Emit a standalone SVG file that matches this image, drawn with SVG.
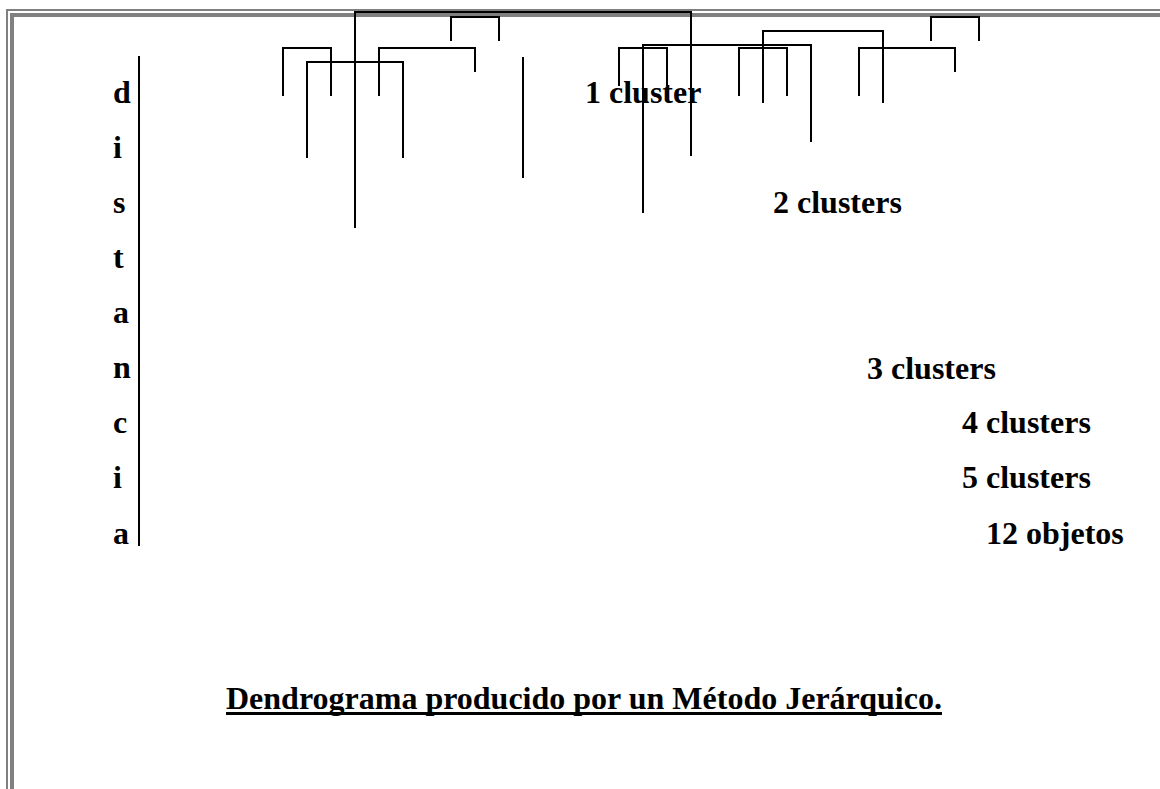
<svg xmlns="http://www.w3.org/2000/svg" width="1160" height="789" viewBox="0 0 1160 789">
<style>
.t{font-family:"Liberation Serif","Times New Roman",serif;font-weight:bold;font-size:32px;fill:#000}
.ln{stroke:#000;stroke-width:2;fill:none;stroke-linecap:butt}
.fr{fill:#808080}
</style>
<rect width="1160" height="789" fill="#fff"/>
<g id="frame">
<rect class="fr" x="6" y="9" width="1160" height="2"/>
<rect class="fr" x="6" y="9" width="2" height="790"/>
<rect class="fr" x="10" y="13" width="1160" height="4"/>
<rect class="fr" x="10" y="13" width="4" height="790"/>
</g>
<g id="axis">
<line class="ln" x1="139" y1="56" x2="139" y2="546"/>
<text class="t" x="113" y="102.5">d</text>
<text class="t" x="113" y="157.6">i</text>
<text class="t" x="113" y="212.7">s</text>
<text class="t" x="113" y="267.9">t</text>
<text class="t" x="113" y="323">a</text>
<text class="t" x="113" y="378.1">n</text>
<text class="t" x="113" y="433.2">c</text>
<text class="t" x="113" y="488.4">i</text>
<text class="t" x="113" y="543.5">a</text>
</g>
<g id="connectors">
<path class="ln" d="M283 96V48H331V96"/>
<path class="ln" d="M307 158V62H403V158"/>
<path class="ln" d="M355 228V12H691V156"/>
<path class="ln" d="M379 96V48H475V72"/>
<path class="ln" d="M451 41V17H499V41"/>
<path class="ln" d="M523 57V178"/>
<path class="ln" d="M619 86V48H667V86"/>
<path class="ln" d="M643 213V45H811V142"/>
<path class="ln" d="M739 96V48H787V96"/>
<path class="ln" d="M763 103V31H883V103"/>
<path class="ln" d="M859 96V48H955V72"/>
<path class="ln" d="M931 41V17H979V41"/>
</g>
<g id="label-1"><text class="t" x="585" y="102.5">1 cluster</text></g>
<g id="label-2"><text class="t" x="773" y="212.7">2 clusters</text></g>
<g id="label-3"><text class="t" x="867" y="378.8">3 clusters</text></g>
<g id="label-4"><text class="t" x="962" y="433.3">4 clusters</text></g>
<g id="label-5"><text class="t" x="962" y="488.4">5 clusters</text></g>
<g id="label-12"><text class="t" x="986" y="543.5">12 objetos</text></g>
<g id="title">
<text class="t" x="226" y="709">Dendrograma producido por un Método Jerárquico.</text>
<rect x="226" y="712" width="716" height="3" fill="#000"/>
</g>
</svg>
